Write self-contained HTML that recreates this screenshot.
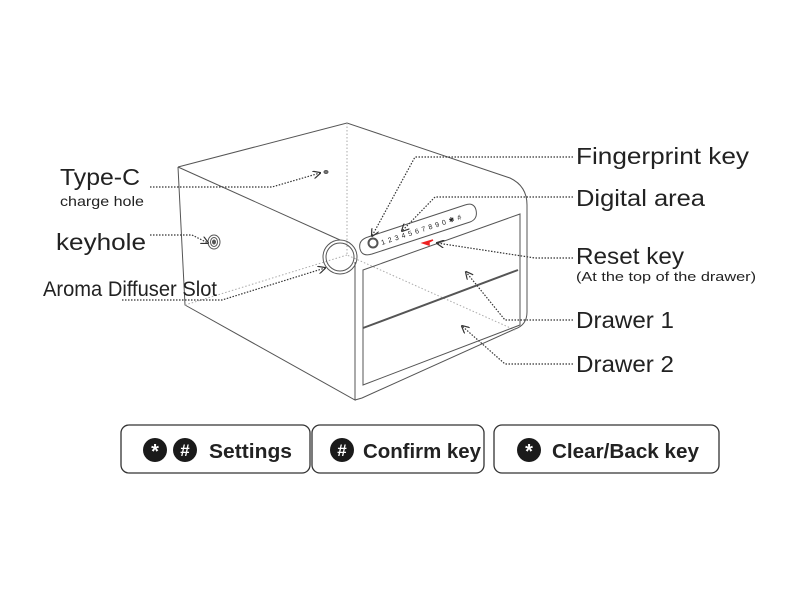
<!DOCTYPE html>
<html><head><meta charset="utf-8"><style>
html,body{margin:0;padding:0;background:#fff;}
svg{display:block;}
text{font-family:"Liberation Sans",sans-serif;fill:#222;}
</style></head><body>
<svg width="800" height="600" viewBox="0 0 800 600" xmlns="http://www.w3.org/2000/svg">
<defs>
<marker id="ar" markerWidth="8" markerHeight="8" refX="7" refY="4" orient="auto" markerUnits="userSpaceOnUse">
<path d="M0,0 L8,4 L0,8" fill="none" stroke="#333" stroke-width="1.2"/>
</marker>
</defs>
<g fill="none" stroke="#555" stroke-width="1">
<path d="M178,167 L347,123 L510,178 Q527,186 527,205 L527,312 Q527,325 515,329 L362,398 L355,400"/>
<path d="M178,167 L340,240"/>
<path d="M178,167 L185,305 L355,400 L355,262"/>
<path d="M347,123 L347,255 L515,330" stroke="#aaa" stroke-dasharray="1.5,2"/>
<path d="M347,255 L185,305" stroke="#aaa" stroke-dasharray="1.5,2"/>
<circle cx="340" cy="257" r="17"/>
<circle cx="340" cy="257" r="14"/>
<path d="M368,237 L465,205 Q474,202 476,210 Q478,219 470,222 L372,254 Q362,257 360,249 Q358,240 368,237 Z"/>
<circle cx="373" cy="243" r="4.5" stroke-width="2"/>
<path d="M363,270 L520,214 L520,325 L363,385 Z"/>
<path d="M363,328 L518,270" stroke-width="2"/>
<ellipse cx="214" cy="242" rx="6" ry="7"/>
<ellipse cx="214" cy="242" rx="3.5" ry="4.5"/>
<ellipse cx="214" cy="242" rx="1.5" ry="2" fill="#555"/>
<ellipse cx="326" cy="172" rx="2" ry="1.5" fill="#777"/>
</g>
<text x="382" y="245" transform="rotate(-18 382 245)" font-size="7" textLength="84" lengthAdjust="spacing">1 2 3 4 5 6 7 8 9 0 ✱ #</text>
<path d="M423,243 L433,240 L429,242 L429,245 Z" fill="#e22" stroke="#e22" stroke-width="1.5"/>
<g fill="none" stroke="#333" stroke-width="1.2" stroke-dasharray="1.5,1.5" marker-end="url(#ar)">
<path d="M150,187 L272,187 L320,173"/>
<path d="M150,235 L192,235 L208,243"/>
<path d="M122,300 L222,300 L325,268"/>
<path d="M573,157 L415,157 L372,236"/>
<path d="M573,197 L435,197 L402,231"/>
<path d="M573,258 L535,258 L437,243"/>
<path d="M573,320 L505,320 L466,272"/>
<path d="M573,364 L505,364 L462,326"/>
</g>
<text x="60" y="185" font-size="23" textLength="80" lengthAdjust="spacingAndGlyphs">Type-C</text>
<text x="60" y="206" font-size="14" textLength="84" lengthAdjust="spacingAndGlyphs">charge hole</text>
<text x="56" y="250" font-size="23" textLength="90" lengthAdjust="spacingAndGlyphs">keyhole</text>
<text x="43" y="296" font-size="21" textLength="174" lengthAdjust="spacingAndGlyphs">Aroma Diffuser Slot</text>
<text x="576" y="164" font-size="23" textLength="173" lengthAdjust="spacingAndGlyphs">Fingerprint key</text>
<text x="576" y="206" font-size="23" textLength="129" lengthAdjust="spacingAndGlyphs">Digital area</text>
<text x="576" y="264" font-size="23" textLength="108" lengthAdjust="spacingAndGlyphs">Reset key</text>
<text x="576" y="281" font-size="13" textLength="180" lengthAdjust="spacingAndGlyphs">(At the top of the drawer)</text>
<text x="576" y="328" font-size="23" textLength="98" lengthAdjust="spacingAndGlyphs">Drawer 1</text>
<text x="576" y="372" font-size="23" textLength="98" lengthAdjust="spacingAndGlyphs">Drawer 2</text>
<g fill="none" stroke="#333" stroke-width="1.3">
<rect x="121" y="425" width="189" height="48" rx="8"/>
<rect x="312" y="425" width="172" height="48" rx="8"/>
<rect x="494" y="425" width="225" height="48" rx="8"/>
</g>
<g fill="#1a1a1a">
<circle cx="155" cy="450" r="12"/><circle cx="185" cy="450" r="12"/>
<circle cx="342" cy="450" r="12"/><circle cx="529" cy="450" r="12"/>
</g>
<g font-weight="bold" text-anchor="middle">
<text x="155" y="458" font-size="20" style="fill:#fff">*</text>
<text x="185" y="456" font-size="17" style="fill:#fff">#</text>
<text x="342" y="456" font-size="17" style="fill:#fff">#</text>
<text x="529" y="458" font-size="20" style="fill:#fff">*</text>
</g>
<g font-weight="bold" font-size="20">
<text x="209" y="458" textLength="83" lengthAdjust="spacingAndGlyphs">Settings</text>
<text x="363" y="458" textLength="118" lengthAdjust="spacingAndGlyphs">Confirm key</text>
<text x="552" y="458" textLength="147" lengthAdjust="spacingAndGlyphs">Clear/Back key</text>
</g>
</svg>
</body></html>
